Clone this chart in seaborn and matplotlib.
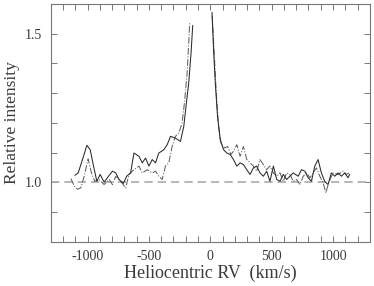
import numpy as np
import pandas as pd
import matplotlib
matplotlib.use('Agg')
import matplotlib.pyplot as plt
from matplotlib.ticker import MultipleLocator
import seaborn as sns

# solid profile, blue wing (left of the gap)
rv_a_left = [-1103, -1076, -1041, -1005, -978, -951, -924, -897, -865, -838, -797, -770,
             -743, -708, -681, -649, -622, -581, -554, -527, -500, -473, -446, -419,
             -378, -351, -324, -284, -243, -216, -195, -176, -157, -143]
int_a_left = [1.024, 1.032, 1.077, 1.125, 1.110, 1.055, 1.004, 1.027, 1.001, 1.016, 1.038, 1.032,
              1.010, 0.997, 1.021, 1.032, 1.099, 1.088, 1.066, 1.082, 1.055, 1.077, 1.066, 1.099,
              1.110, 1.127, 1.155, 1.149, 1.138, 1.188, 1.266, 1.333, 1.433, 1.528]
# solid profile, red wing
rv_a_right = [14, 27, 41, 59, 81, 108, 135, 162, 189, 216, 243, 270, 297, 324, 351, 378, 405,
              432, 459, 486, 514, 541, 568, 595, 622, 649, 676, 716, 743, 770, 797, 824, 851,
              878, 905, 932, 959, 986, 1014, 1041, 1068, 1095, 1122, 1135]
int_a_right = [1.572, 1.444, 1.333, 1.222, 1.144, 1.110, 1.099, 1.094, 1.077, 1.055, 1.066, 1.060,
               1.043, 1.027, 1.049, 1.055, 1.032, 1.021, 1.038, 1.004, 1.055, 1.010, 1.004, 1.027,
               1.010, 1.021, 1.032, 1.021, 1.043, 1.038, 1.016, 1.004, 1.055, 1.077, 1.032, 1.004,
               0.993, 1.032, 1.021, 1.032, 1.021, 1.032, 1.016, 1.027]

# dash-dot profile
rv_b_left = [-1135, -1108, -1081, -1054, -1027, -995, -968, -941, -905, -865, -824, -797, -770,
             -730, -689, -662, -622, -581, -554, -514, -473, -446, -419, -392, -365, -338,
             -311, -284, -257, -230, -208, -189, -173, -168]
int_b_left = [1.013, 0.988, 0.977, 0.982, 1.021, 1.079, 1.032, 1.004, 1.010, 0.993, 1.010, 0.993,
              1.021, 1.004, 0.982, 1.027, 1.043, 1.055, 1.032, 1.043, 1.032, 1.038, 1.021, 1.010,
              1.055, 1.066, 1.121, 1.155, 1.166, 1.199, 1.277, 1.366, 1.489, 1.539]
rv_b_right = [16, 32, 49, 68, 86, 114, 141, 168, 189, 216, 243, 270, 297, 324, 351, 378, 405,
              432, 459, 486, 514, 541, 568, 595, 622, 649, 676, 703, 730, 757, 784, 811, 838,
              865, 892, 919, 941, 968, 1000, 1041, 1081, 1108, 1130]
int_b_right = [1.561, 1.433, 1.300, 1.188, 1.133, 1.116, 1.121, 1.094, 1.105, 1.127, 1.088, 1.121,
               1.077, 1.066, 1.055, 1.038, 1.077, 1.060, 1.043, 1.055, 1.032, 1.021, 1.032, 1.004,
               1.032, 1.027, 1.004, 1.010, 0.993, 1.021, 1.032, 1.016, 1.032, 1.049, 1.021, 0.999,
               0.965, 1.004, 1.032, 1.027, 1.038, 1.027, 1.032]

continuum = 1.0

sns.set_style('ticks')
plt.rcParams['font.family'] = ['Liberation Serif', 'DejaVu Serif']

fig = plt.figure(figsize=(3.74, 2.86), dpi=100)
ax = fig.add_axes([0.1355, 0.154, 0.8535, 0.832])

ax.axhline(continuum, color='#aaaaaa', lw=1.2, ls=(0, (5, 3)), zorder=1)

for x, y in [(rv_a_left, int_a_left), (rv_a_right, int_a_right)]:
    sns.lineplot(x=x, y=y, ax=ax, color='#2a2a2a', lw=0.75, sort=False, zorder=3)
for x, y in [(rv_b_left, int_b_left), (rv_b_right, int_b_right)]:
    sns.lineplot(x=x, y=y, ax=ax, color='#606060', lw=0.75, ls='-.', sort=False, zorder=2)

ax.set_xlim(-1300, 1300)
ax.set_ylim(0.8, 1.6)
ax.xaxis.set_major_locator(MultipleLocator(500))
ax.xaxis.set_minor_locator(MultipleLocator(100))
ax.yaxis.set_major_locator(MultipleLocator(0.5))
ax.yaxis.set_minor_locator(MultipleLocator(0.1))
ax.yaxis.set_major_formatter(plt.FormatStrFormatter('%.1f'))
ax.xaxis.set_major_formatter(plt.FormatStrFormatter('%d'))

for s in ax.spines.values():
    s.set_color('#777777')
    s.set_linewidth(0.8)
ax.tick_params(which='both', direction='in', top=True, right=True, color='#777777',
               width=0.7, labelsize=10, labelcolor='#3a3a3a')
ax.tick_params(which='major', length=4, pad=6)
ax.tick_params(which='minor', length=4)

ax.set_xlabel('Heliocentric RV  (km/s)', fontsize=13, color='#3a3a3a', labelpad=1)
ax.set_ylabel('Relative intensity', fontsize=12.5, color='#3a3a3a', labelpad=4)

fig.savefig('out.png', dpi=100)
